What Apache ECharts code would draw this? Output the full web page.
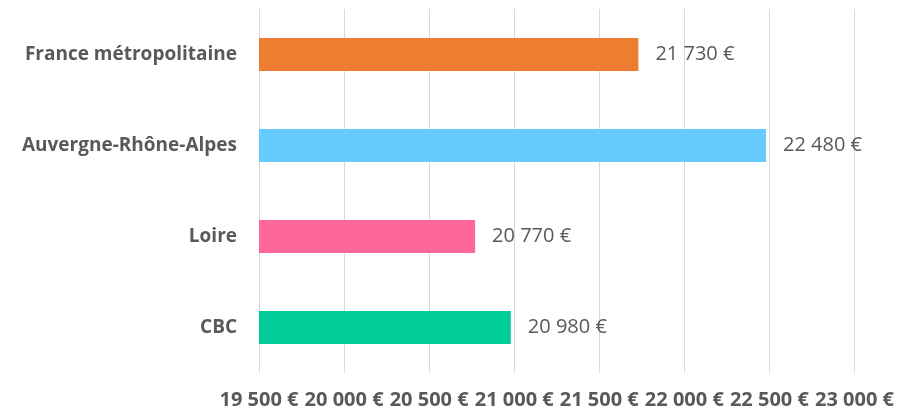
<!DOCTYPE html>
<html>
<head>
<meta charset="utf-8">
<script src="https://cdn.jsdelivr.net/npm/echarts@6/dist/echarts.min.js"></script>
<style>
  html, body { margin: 0; padding: 0; background: #fff; }
  #chart { width: 897px; height: 416px; }
</style>
</head>
<body>
<div id="chart"></div>
<script>
// zones, top to bottom
const categories = ['France métropolitaine', 'Auvergne-Rhône-Alpes', 'Loire', 'CBC'];
const values = [21730, 22480, 20770, 20980];
const barColors = ['#ED7D31', '#66CCFF', '#FF6699', '#00CC99'];
const axisMin = 19500;
const axisMax = 23000;
const axisStep = 500;

function euro(v) {
  return String(v).replace(/\B(?=(\d{3})+(?!\d))/g, ' ') + ' €';
}

const chart = echarts.init(document.getElementById('chart'));
chart.setOption({
  animation: false,
  grid: { left: 259, right: 41, top: 9, bottom: 43 },
  xAxis: {
    type: 'value',
    min: axisMin,
    max: axisMax,
    interval: axisStep,
    axisLine: { show: false },
    axisTick: { show: false },
    splitLine: { lineStyle: { color: '#D9D9D9', width: 1 } },
    axisLabel: {
      margin: 17,
      color: '#595959',
      fontFamily: 'Open Sans',
      fontWeight: 'bold',
      fontSize: 20,
      hideOverlap: false,
      formatter: euro
    }
  },
  yAxis: {
    type: 'category',
    inverse: true,
    data: categories,
    axisLine: { show: false },
    axisTick: { show: false },
    axisLabel: {
      margin: 22,
      color: '#595959',
      fontFamily: 'Open Sans',
      fontWeight: 'bold',
      fontSize: 19
    }
  },
  series: [{
    type: 'bar',
    barWidth: 33,
    data: values.map((v, i) => ({ value: v, itemStyle: { color: barColors[i] } })),
    label: {
      show: true,
      position: 'right',
      distance: 17,
      color: '#595959',
      fontFamily: 'Open Sans',
      fontSize: 20,
      formatter: p => euro(p.value)
    }
  }]
});
</script>
</body>
</html>
